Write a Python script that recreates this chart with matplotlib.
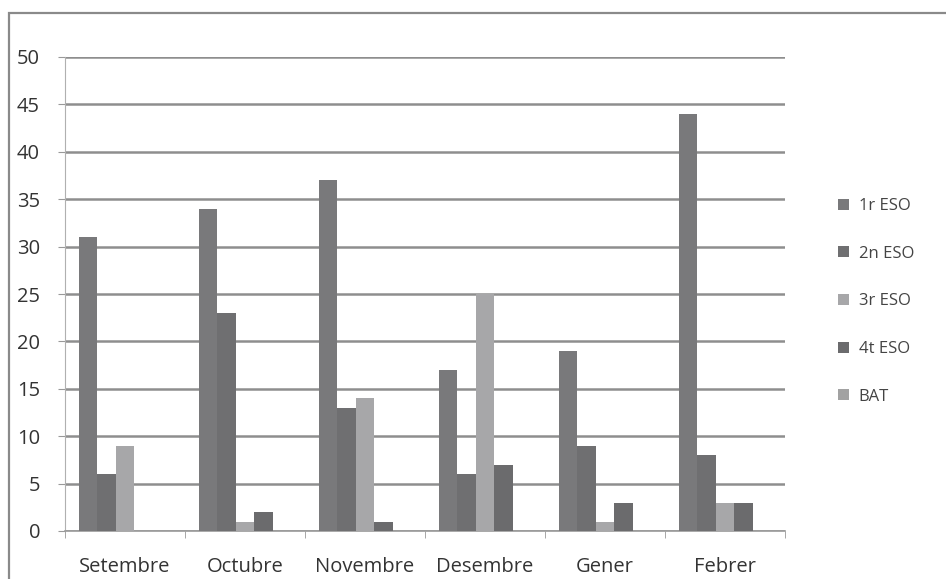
import matplotlib
matplotlib.use("Agg")
import matplotlib.pyplot as plt
import numpy as np
from matplotlib.patches import Rectangle

months = ["Setembre", "Octubre", "Novembre", "Desembre", "Gener", "Febrer"]
eso1 = [31, 34, 37, 17, 19, 44]
eso2 = [6, 23, 13, 6, 9, 8]
eso3 = [9, 1, 14, 25, 1, 3]
eso4 = [0, 2, 1, 7, 3, 3]
bat = [0, 0, 0, 0, 0, 0]

series = [("1r ESO", eso1, "#79797b"),
          ("2n ESO", eso2, "#6f6f71"),
          ("3r ESO", eso3, "#a7a7a9"),
          ("4t ESO", eso4, "#6b6b6d"),
          ("BAT", bat, "#a2a2a2")]

plt.rcParams["font.family"] = ["Open Sans", "DejaVu Sans"]

fig = plt.figure(figsize=(9.46, 5.79), dpi=100)
ax = fig.add_axes([65 / 946, 48 / 579, 720 / 946, 474 / 579])

# outer chart frame
fig.patches.append(Rectangle((9 / 946, -0.05), 1.0, (579 - 13) / 579 + 0.05,
                             transform=fig.transFigure, fill=False,
                             edgecolor="#8a8a8a", linewidth=1.6))

x = np.arange(len(months))
bw = 0.77 / 5
for i, (name, vals, col) in enumerate(series):
    ax.bar(x - 0.385 + bw * (i + 0.5), vals, width=bw, color=col, label=name,
           zorder=3)

ax.set_xlim(-0.5, len(months) - 0.5)
ax.set_ylim(0, 50)
ax.set_yticks(np.arange(0, 51, 5))
ax.yaxis.grid(True, color="#8e8e8e", linewidth=1.8, zorder=0)
ax.set_xticks(x)
ax.set_xticklabels(months, fontsize=14.5, color="#333333")
ax.set_xticks(np.arange(-0.5, len(months), 1), minor=True)
ax.tick_params(axis="x", which="major", length=0, pad=19)
ax.tick_params(axis="x", which="minor", length=5, color="#999999")
ax.tick_params(axis="y", length=5, color="#999999", labelsize=14.5,
               labelcolor="#333333", pad=13)

for s in ["top", "right"]:
    ax.spines[s].set_visible(False)
ax.spines["left"].set_color("#b0b0b0")
ax.spines["bottom"].set_color("#9a9a9a")
ax.spines["bottom"].set_linewidth(1.2)

leg = fig.legend(loc="upper left", bbox_to_anchor=(823 / 946, 1 - 183 / 579),
                 frameon=False, fontsize=12, labelspacing=1.9,
                 handlelength=0.65, handleheight=0.65, handletextpad=0.6)
for t in leg.get_texts():
    t.set_color("#444444")

fig.savefig("out.png", dpi=100)
